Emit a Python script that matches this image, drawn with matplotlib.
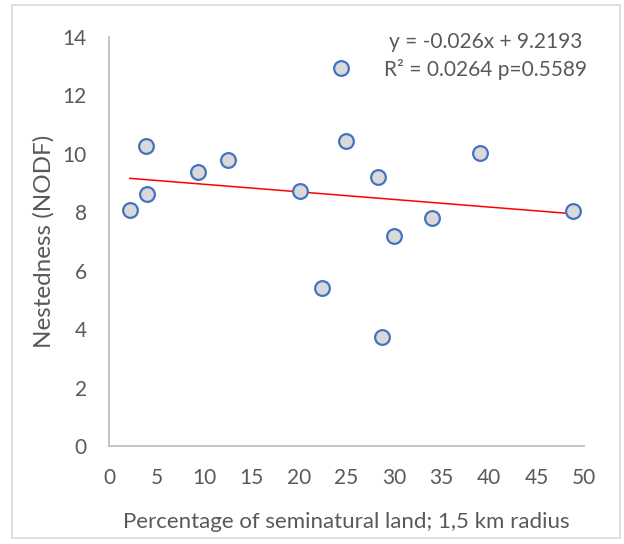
import matplotlib
matplotlib.use("Agg")
import matplotlib.pyplot as plt
from matplotlib.patches import Rectangle

# Percentage of seminatural land (1.5 km radius) vs. nestedness (NODF)
seminatural_pct = [2.2, 3.9, 4.0, 9.4, 12.5, 20.1, 22.4, 24.45, 24.9, 28.3, 28.7, 30.0, 34.0, 39.05, 48.8]
nodf = [8.08, 10.28, 8.63, 9.37, 9.80, 8.72, 5.40, 12.94, 10.44, 9.22, 3.72, 7.20, 7.80, 10.04, 8.06]

slope = -0.026
intercept = 9.2193
r_squared = 0.0264
p_value = 0.5589

x_ticks = [0, 5, 10, 15, 20, 25, 30, 35, 40, 45, 50]
y_ticks = [0, 2, 4, 6, 8, 10, 12, 14]

plt.rcParams['font.family'] = ['Lato', 'DejaVu Sans']
text_color = '#595959'
axis_color = '#BFBFBF'

fig = plt.figure(figsize=(6.24, 5.44), dpi=100)
fig.patch.set_facecolor('white')
ax = fig.add_axes([109 / 624, 1 - 446 / 544, (584 - 109) / 624, (446 - 37) / 544])

# outer chart frame
fig.add_artist(Rectangle((12 / 624, 1 - 538 / 544), (620 - 12) / 624, (538 - 5) / 544,
                         transform=fig.transFigure, fill=False, edgecolor='#D9D9D9', lw=1.2))

ax.scatter(seminatural_pct, nodf, s=10.6 ** 2, facecolor='#D9D9D9', edgecolor='#4472C4',
           linewidths=1.6, zorder=3)

x0, x1 = min(seminatural_pct), max(seminatural_pct)
ax.plot([x0, x1], [slope * x0 + intercept, slope * x1 + intercept], color='#FF0000', lw=1.1, zorder=2)

ax.set_xlim(0, 50)
ax.set_ylim(0, 14)
ax.set_xticks(x_ticks)
ax.set_yticks(y_ticks)
ax.tick_params(length=0, labelsize=15, colors=text_color)
ax.tick_params(axis='x', pad=16)
ax.tick_params(axis='y', pad=16)
for side in ('top', 'right'):
    ax.spines[side].set_visible(False)
for side in ('left', 'bottom'):
    ax.spines[side].set_color(axis_color)
    ax.spines[side].set_linewidth(1.3)

ax.set_xlabel('Percentage of seminatural land; 1,5 km radius', fontsize=16, color=text_color, labelpad=17)
ax.set_ylabel('Nestedness (NODF)', fontsize=17.5, color=text_color, labelpad=6)

eq = f'y = {slope}x + {intercept}\nR² = {r_squared} p={p_value}'
fig.text(486 / 624, 1 - 56 / 544, eq, ha='center', va='center', fontsize=15,
         color=text_color, linespacing=1.45)

fig.savefig('out.png', dpi=100)
